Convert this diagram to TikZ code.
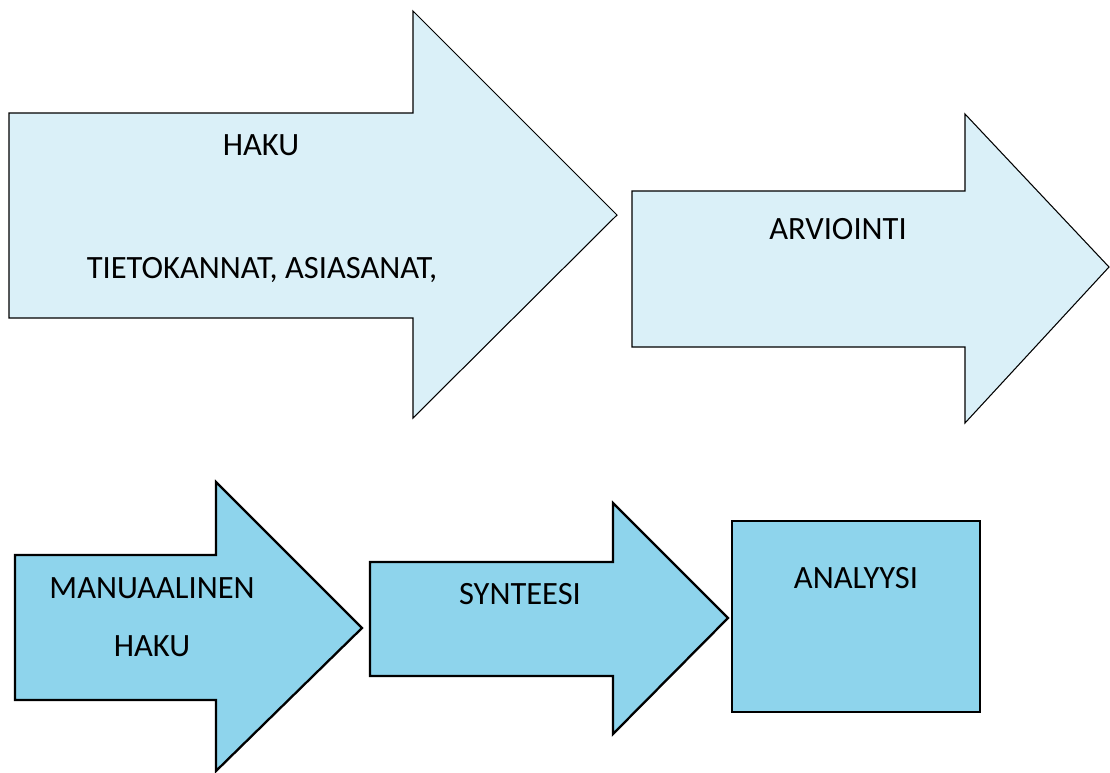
\documentclass[tikz,border=0pt]{standalone}
\usepackage{fontspec}
\setmainfont{Carlito}
\definecolor{paleblue}{HTML}{DAF0F8}
\definecolor{skyblue}{HTML}{8ED4EC}
\tikzset{
  pale/.style= {draw, fill=paleblue, line width=0.6pt, line join=miter},
  sky/.style= {draw, fill=skyblue, line width=1.3pt, line join=miter},
  label/.style= {font=\fontsize{18.5}{22}\selectfont, inner sep=0},
}

\begin{document}
\begin{tikzpicture}[x=0.02cm, y=-0.02cm]
  \useasboundingbox (0,0) rectangle (1110,772);
  % upper row
  \draw [pale] (9,113) -- (413,113) -- (413,11) -- (617,215) -- (413,418) -- (413,318) -- (9,318) -- cycle;
  \draw [pale] (632,191) -- (965,191) -- (965,114) -- (1109,267) -- (965,423) -- (965,347) -- (632,347) -- cycle;
  % lower row
  \draw [sky] (15,555) -- (216,555) -- (216,482) -- (362,628) -- (216,771) -- (216,700) -- (15,700) -- cycle;
  \draw [sky] (370,562) -- (613,562) -- (613,503) -- (728,618) -- (613,734) -- (613,676) -- (370,676) -- cycle;
  \draw [sky] (732,521) rectangle (980,712);

  \node [label] (haku) at (261,145) {HAKU};
  \node [label] (tieto) at (262,270) {TIETOKANNAT, ASIASANAT,};
  \node [label] (arvi) at (838,229) {ARVIOINTI};
  \node [label] (manu) at (152,588) {MANUAALINEN};
  \node [label] (haku2) at (152,646) {HAKU};
  \node [label] (synt) at (520,594) {SYNTEESI};
  \node [label] (anal) at (856,578) {ANALYYSI};
\end{tikzpicture}
\end{document}
